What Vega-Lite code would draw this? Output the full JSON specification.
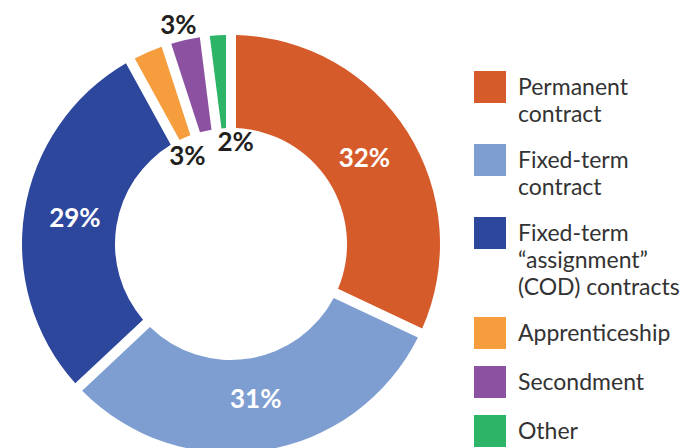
{
  "$schema": "https://vega.github.io/schema/vega-lite/v6.json",
  "width": 462,
  "height": 488,
  "padding": 0,
  "background": "white",
  "config": {
    "view": {"stroke": null},
    "style": {"guide-label": {"dy": -10, "lineHeight": 27}}
  },
  "data": {
    "values": [
      {"category": "Permanent contract", "value": 32, "label": "32%", "order": 1},
      {"category": "Fixed-term contract", "value": 31, "label": "31%", "order": 2},
      {"category": "Fixed-term “assignment” (COD) contracts", "value": 29, "label": "29%", "order": 3},
      {"category": "Apprenticeship", "value": 3, "label": "3%", "order": 4},
      {"category": "Secondment", "value": 3, "label": "3%", "order": 5},
      {"category": "Other", "value": 2, "label": "2%", "order": 6}
    ]
  },
  "encoding": {
    "theta": {"field": "value", "type": "quantitative", "stack": true},
    "order": {"field": "order", "type": "quantitative"}
  },
  "layer": [
    {
      "mark": {"type": "arc", "outerRadius": 209, "innerRadius": 116, "padAngle": 0.042, "stroke": null},
      "encoding": {
        "color": {
          "field": "category",
          "type": "nominal",
          "scale": {
            "domain": ["Permanent contract", "Fixed-term contract", "Fixed-term “assignment” (COD) contracts", "Apprenticeship", "Secondment", "Other"],
            "range": ["#D65B2A", "#7E9ED2", "#2D479C", "#F69D3E", "#8C52A1", "#2DB466"]
          },
          "legend": {
            "title": null,
            "orient": "none",
            "legendX": 474,
            "legendY": 71,
            "symbolType": "square",
            "symbolSize": 1024,
            "symbolStrokeWidth": 0,
            "labelFont": "Lato",
            "labelFontSize": 23,
            "labelColor": "#333333",
            "labelOffset": 12,
            "rowPadding": 17,
            "labelLimit": 300,
            "labelBaseline": "top",
            "labelExpr": "datum.label == 'Permanent contract' ? ['Permanent', 'contract'] : datum.label == 'Fixed-term contract' ? ['Fixed-term', 'contract'] : datum.label == 'Fixed-term “assignment” (COD) contracts' ? ['Fixed-term', '“assignment”', '(COD) contracts'] : datum.label"
          }
        }
      }
    },
    {
      "mark": {"type": "text", "radius": 158, "fill": "white", "fontSize": 26, "font": "Lato", "fontWeight": "bold"},
      "encoding": {
        "text": {"condition": {"test": "datum.value > 10", "field": "label"}, "value": ""}
      }
    },
    {
      "mark": {"type": "text", "radius": 97, "dx": -5, "dy": 2, "fill": "#231F20", "fontSize": 26, "font": "Lato", "fontWeight": "bold"},
      "encoding": {
        "text": {"condition": {"test": "datum.category == 'Apprenticeship'", "field": "label"}, "value": ""}
      }
    },
    {
      "mark": {"type": "text", "radius": 223, "dx": -4, "fill": "#231F20", "fontSize": 26, "font": "Lato", "fontWeight": "bold"},
      "encoding": {
        "text": {"condition": {"test": "datum.category == 'Secondment'", "field": "label"}, "value": ""}
      }
    },
    {
      "mark": {"type": "text", "radius": 101, "dx": 11, "fill": "#231F20", "fontSize": 26, "font": "Lato", "fontWeight": "bold"},
      "encoding": {
        "text": {"condition": {"test": "datum.category == 'Other'", "field": "label"}, "value": ""}
      }
    }
  ]
}
